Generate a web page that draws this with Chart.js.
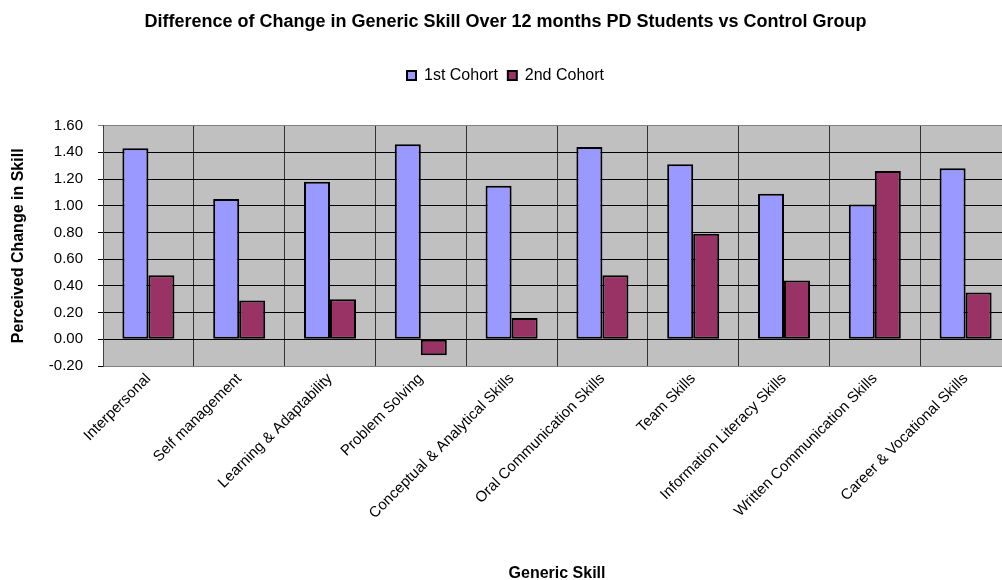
<!DOCTYPE html>
<html>
<head>
<meta charset="utf-8">
<script src="https://cdn.jsdelivr.net/npm/chart.js@4/dist/chart.umd.min.js"></script>
<style>
    body { margin: 0; overflow: hidden; background: #fff; }
    #wrap { width: 1012px; height: 580px; }
</style>
</head>
<body>
<div id="wrap"><canvas id="skillChart"></canvas></div>
<script>
const skills = [
    'Interpersonal', 'Self management', 'Learning & Adaptability', 'Problem Solving',
    'Conceptual & Analytical Skills', 'Oral Communication Skills', 'Team Skills',
    'Information Literacy Skills', 'Written Communication Skills', 'Career & Vocational Skills'
];
const cohort1 = [1.43, 1.05, 1.18, 1.46, 1.15, 1.44, 1.31, 1.09, 1.01, 1.28];
const cohort2 = [0.48, 0.29, 0.30, -0.12, 0.16, 0.48, 0.79, 0.44, 1.26, 0.35];
const yMin = -0.2;
const yMax = 1.6;
const yStep = 0.2;

Chart.defaults.font.family = "'Liberation Sans', Arial, sans-serif";
Chart.defaults.color = '#000';

// grey plot area like the Excel chart
const plotBackground = {
    id: 'plotBackground',
    beforeDraw(chart) {
        const { ctx, chartArea } = chart;
        ctx.save();
        ctx.fillStyle = '#c0c0c0';
        ctx.fillRect(chartArea.left, chartArea.top, chartArea.right - chartArea.left, chartArea.bottom - chartArea.top);
        ctx.restore();
    }
};

// legend takes the gap down to the plot
const legendSpace = {
    id: 'legendSpace',
    beforeInit(chart) {
        const fit = chart.legend.fit;
        chart.legend.fit = function () {
            fit.bind(chart.legend)();
            this.height = 68;
        };
    }
};

new Chart(document.getElementById('skillChart'), {
    type: 'bar',
    data: {
        labels: skills,
        datasets: [{
            label: '1st Cohort',
            data: cohort1,
            backgroundColor: '#9999ff',
            borderColor: '#000',
            borderWidth: 2,
            borderSkipped: false
        }, {
            label: '2nd Cohort',
            data: cohort2,
            backgroundColor: '#993366',
            borderColor: '#000',
            borderWidth: 2,
            borderSkipped: false
        }]
    },
    plugins: [plotBackground, legendSpace],
    options: {
        responsive: true,
        maintainAspectRatio: false,
        animation: false,
        layout: { padding: { left: 0, right: 1, top: 0, bottom: 0 } },
        datasets: {
            bar: { categoryPercentage: 0.573, barPercentage: 1.0 }
        },
        plugins: {
            title: {
                display: true,
                text: 'Difference of Change in Generic Skill Over 12 months PD Students vs Control Group',
                font: { size: 18, weight: 'bold' },
                padding: { top: 11, bottom: 25 }
            },
            legend: {
                labels: {
                    boxWidth: 9,
                    boxHeight: 9,
                    padding: 10,
                    font: { size: 16 }
                }
            },
            tooltip: { enabled: false }
        },
        scales: {
            x: {
                afterFit(scale) { scale.height = 214; },
                grid: {
                    offset: true,
                    color: '#333',
                    drawTicks: false
                },
                border: { color: '#808080' },
                ticks: {
                    autoSkip: false,
                    minRotation: 45,
                    maxRotation: 45,
                    padding: 4,
                    font: { size: 15 }
                },
                title: {
                    display: true,
                    text: 'Generic Skill',
                    font: { size: 16, weight: 'bold' },
                    padding: { top: 0, bottom: -3 }
                }
            },
            y: {
                min: yMin,
                max: yMax,
                afterFit(scale) { scale.width = 103; },
                grid: {
                    color: (c) => c.index === 9 ? '#808080' : '#000',
                    tickLength: 5
                },
                border: { color: '#404040' },
                ticks: {
                    stepSize: yStep,
                    padding: 15,
                    font: { size: 15 },
                    callback: (v) => Number(v).toFixed(2)
                },
                title: {
                    display: true,
                    text: 'Perceived Change in Skill',
                    font: { size: 16, weight: 'bold' },
                    padding: { top: 9, bottom: 0 }
                }
            }
        }
    }
});
</script>
</body>
</html>
